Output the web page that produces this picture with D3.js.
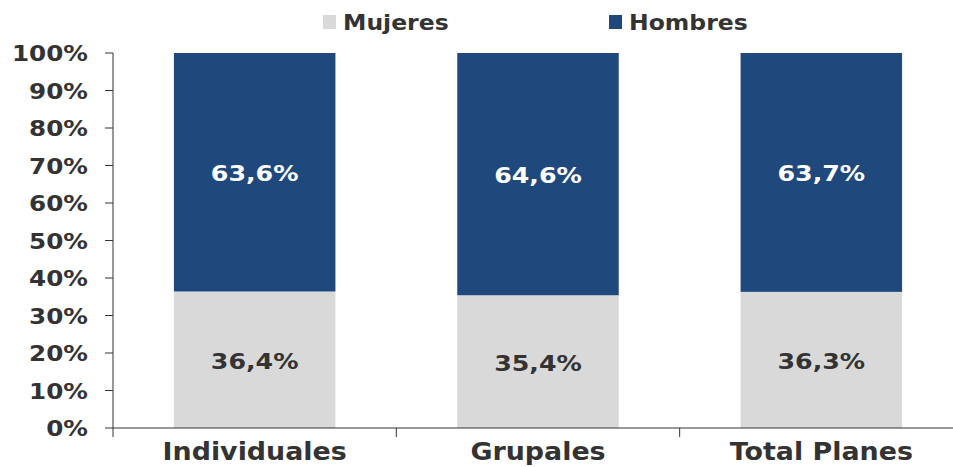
<!DOCTYPE html>
<html>
<head>
<meta charset="utf-8">
<script src="https://cdn.jsdelivr.net/npm/d3@7"></script>
<style>
  body { margin: 0; background: #fff; }
  svg text { font-family: "DejaVu Sans", sans-serif; font-weight: bold; }
</style>
</head>
<body>
<svg id="chart"></svg>
<script>
const categories = ['Individuales', 'Grupales', 'Total Planes'];
const mujeres = [36.4, 35.4, 36.3];
const hombres = [63.6, 64.6, 63.7];
const yTicks = [0, 10, 20, 30, 40, 50, 60, 70, 80, 90, 100];
const seriesNames = ['Mujeres', 'Hombres'];
const colors = ['#d9d9d9', '#1f497d'];

const width = 953, height = 467;
const stretch = 1.12;

const svg = d3.select('#chart').attr('width', width).attr('height', height);

const x = d3.scaleBand().domain(categories).range([113, 963]).paddingInner(0.43).paddingOuter(0.215);
const y = d3.scaleLinear().domain([0, 100]).range([428, 53]);

const rows = categories.map((c, i) => ({ cat: c, Mujeres: mujeres[i], Hombres: hombres[i] }));
const stacked = d3.stack().keys(seriesNames)(rows);

const fmt = (v) => v.toFixed(1).replace('.', ',') + '%';

// bars + value labels
stacked.forEach((layer, li) => {
    svg.append('g')
        .selectAll('rect')
        .data(layer)
        .join('rect')
        .attr('x', (d) => x(d.data.cat))
        .attr('y', (d) => y(d[1]))
        .attr('width', x.bandwidth())
        .attr('height', (d) => y(d[0]) - y(d[1]))
        .attr('fill', colors[li]);

    svg.append('g')
        .selectAll('text')
        .data(layer)
        .join('text')
        .attr('transform', (d) => `translate(${x(d.data.cat) + x.bandwidth() / 2},${(y(d[0]) + y(d[1])) / 2 + 9}) scale(1.15,1)`)
        .attr('text-anchor', 'middle')
        .style('font-size', '22px')
        .style('fill', li === 0 ? '#333' : '#fff')
        .text((d) => fmt(d[1] - d[0]));
});

// y axis
const yAxis = svg.append('g').attr('transform', 'translate(113,0)');
yAxis.append('line').attr('x1', 0).attr('x2', 0).attr('y1', y(100)).attr('y2', y(0)).attr('stroke', '#333');
yAxis.selectAll('.tick')
    .data(yTicks)
    .join('line')
    .attr('x1', -8).attr('x2', 0)
    .attr('y1', (d) => y(d)).attr('y2', (d) => y(d))
    .attr('stroke', '#333');
yAxis.selectAll('text')
    .data(yTicks)
    .join('text')
    .attr('transform', (d) => `translate(-25,${y(d) + 8}) scale(${stretch},1)`)
    .attr('text-anchor', 'end')
    .style('font-size', '22px')
    .style('fill', '#333')
    .text((d) => d + '%');

// x axis
const xAxis = svg.append('g');
xAxis.append('line').attr('x1', 113).attr('x2', width).attr('y1', y(0)).attr('y2', y(0)).attr('stroke', '#333');
const step = x.step();
xAxis.selectAll('.xt')
    .data(categories)
    .join('line')
    .attr('x1', (d, i) => 113 + i * step).attr('x2', (d, i) => 113 + i * step)
    .attr('y1', y(0)).attr('y2', y(0) + 9)
    .attr('stroke', '#333');
xAxis.selectAll('text')
    .data(categories)
    .join('text')
    .attr('transform', (d) => `translate(${x(d) + x.bandwidth() / 2},460) scale(${stretch},1)`)
    .attr('text-anchor', 'middle')
    .style('font-size', '24px')
    .style('fill', '#333')
    .text((d) => d);

// legend
const legendX = [323, 609];
const legend = svg.append('g');
seriesNames.forEach((name, i) => {
    legend.append('rect')
        .attr('x', legendX[i]).attr('y', 15)
        .attr('width', 13).attr('height', 14)
        .attr('fill', colors[i]);
    legend.append('text')
        .attr('transform', `translate(${legendX[i] + 20},30) scale(${stretch},1)`)
        .style('font-size', '21px')
        .style('fill', '#333')
        .text(name);
});
</script>
</body>
</html>
